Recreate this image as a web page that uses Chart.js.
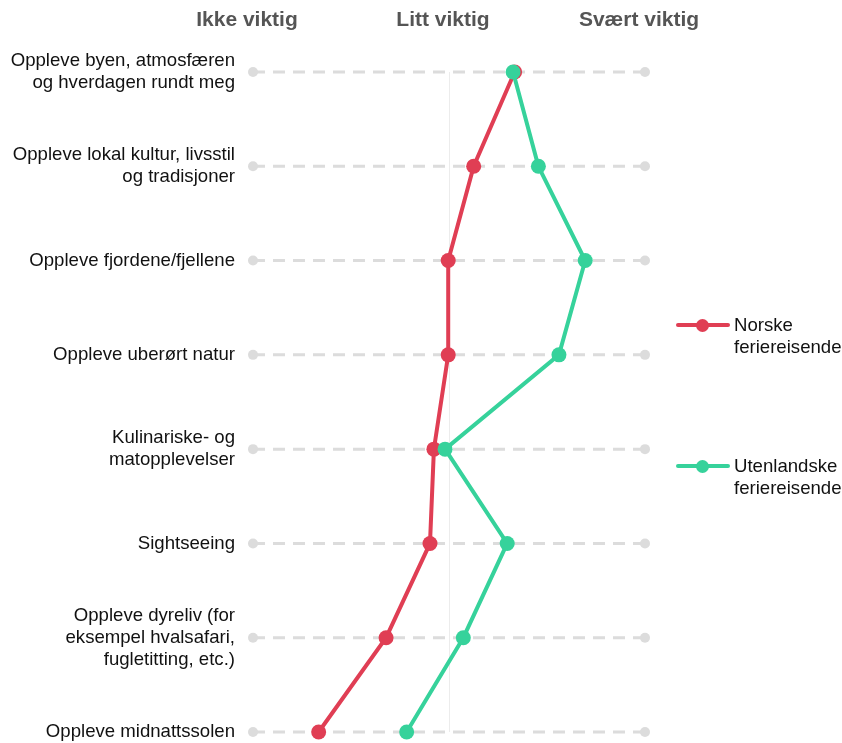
<!DOCTYPE html>
<html>
<head>
<meta charset="utf-8">
<script src="https://cdn.jsdelivr.net/npm/chart.js@4/dist/chart.umd.min.js"></script>
<style>
    body { margin: 0; background: #fff; font-family: "Liberation Sans", Arial, sans-serif; }
    #wrap { position: relative; width: 842px; height: 743px; }
    #chartBox { position: absolute; left: 0; top: 0; width: 842px; height: 743px; }
    .lgItem { position: absolute; left: 676px; font-size: 18.6px; line-height: 22px; color: #111; }
    .lgMark { position: absolute; left: 0; top: 9px; width: 54px; height: 4px; border-radius: 2px; }
    .lgDot { position: absolute; left: 20px; top: -4.5px; width: 13px; height: 13px; border-radius: 50%; }
    .lgText { position: absolute; left: 58px; top: 0; white-space: nowrap; }
</style>
</head>
<body>
<div id="wrap">
    <div id="chartBox"><canvas id="Chart_main"></canvas></div>
    <div id="legend"></div>
</div>
<script>
// categories (as shown, one entry per line of text)
var categoryLines = [
    ["Oppleve byen, atmosfæren", "og hverdagen rundt meg"],
    ["Oppleve lokal kultur, livsstil", "og tradisjoner"],
    ["Oppleve fjordene/fjellene"],
    ["Oppleve uberørt natur"],
    ["Kulinariske- og", "matopplevelser"],
    ["Sightseeing"],
    ["Oppleve dyreliv (for", "eksempel hvalsafari,", "fugletitting, etc.)"],
    ["Oppleve midnattssolen"]
];

// 1 = Ikke viktig, 2 = Litt viktig, 3 = Svært viktig
var scaleValues = [1, 2, 3];
var scaleLabels = ["Ikke viktig", "Litt viktig", "Svært viktig"];

var seriesNames = [["Norske", "feriereisende"], ["Utenlandske", "feriereisende"]];
var norske = [2.335, 2.126, 1.996, 1.996, 1.923, 1.903, 1.679, 1.335];
var utenlandske = [2.327, 2.456, 2.695, 2.561, 1.980, 2.297, 2.073, 1.784];

var seriesColors = ["#e03e54", "#36d29b"];
var rangeColor = "#dcdcdc";

var labels = categoryLines.map(function (l) { return l.join(" "); });

// grey dashed range line for every category, from lowest to highest scale value
var DSets = labels.map(function (lab) {
    return {
        data: [{ x: scaleValues[0], y: lab }, { x: scaleValues[scaleValues.length - 1], y: lab }],
        borderColor: rangeColor, borderWidth: 3, borderDash: [12, 8],
        pointRadius: 5, pointHoverRadius: 5, pointBorderWidth: 0,
        pointBackgroundColor: rangeColor, clip: false, order: 3
    };
});

var series = [norske, utenlandske];
for (var i = 0; i < series.length; i++) {
    DSets.push({
        label: seriesNames[i].join(" "),
        data: series[i],
        borderColor: seriesColors[i], backgroundColor: seriesColors[i],
        borderWidth: 4, pointRadius: 7.5, pointHoverRadius: 7.5, pointBorderWidth: 0,
        pointBackgroundColor: seriesColors[i], clip: false, tension: 0,
        order: 2 - i
    });
}

var ctx = document.getElementById("Chart_main");
var chart = new Chart(ctx, {
    type: "line",
    data: { labels: labels, datasets: DSets },
    options: {
        indexAxis: "y",
        maintainAspectRatio: false,
        responsive: true,
        animation: false,
        layout: { padding: { top: 0, right: 197, bottom: 11, left: 0 } },
        plugins: { legend: { display: false }, tooltip: { enabled: false } },
        scales: {
            x: {
                type: "linear",
                position: "top",
                min: scaleValues[0],
                max: scaleValues[scaleValues.length - 1],
                afterBuildTicks: function (s) { s.ticks = scaleValues.map(function (v) { return { value: v }; }); },
                afterFit: function (s) { s.height = 72; s.paddingLeft = 0; s.paddingRight = 0; },
                ticks: {
                    padding: 39,
                    labelOffset: -6,
                    color: "#555",
                    font: { family: "'Liberation Sans', Arial, sans-serif", size: 21, weight: "bold" },
                    callback: function (v) { return scaleLabels[scaleValues.indexOf(v)]; }
                },
                grid: {
                    drawTicks: false,
                    color: function (c) { return c.tick && c.tick.value === scaleValues[1] ? "#ececec" : "rgba(0,0,0,0)"; }
                },
                border: { display: false }
            },
            y: {
                type: "category",
                afterFit: function (s) { s.width = 253; s.paddingTop = 0; s.paddingBottom = 0; },
                ticks: {
                    autoSkip: false,
                    padding: 18,
                    color: "#111",
                    font: { family: "'Liberation Sans', Arial, sans-serif", size: 18.6, lineHeight: 1.18 },
                    callback: function (v, idx) { return categoryLines[idx]; }
                },
                grid: { display: false, drawTicks: false },
                border: { display: false }
            }
        }
    }
});

// html legend (two-line labels)
var legendTops = [314, 455];
var lg = document.getElementById("legend");
for (var i = 0; i < seriesNames.length; i++) {
    var it = document.createElement("div");
    it.className = "lgItem";
    it.style.top = legendTops[i] + "px";
    it.innerHTML = "<div class='lgMark' style='background:" + seriesColors[i] + "'><div class='lgDot' style='background:" + seriesColors[i] + "'></div></div>" +
        "<div class='lgText'>" + seriesNames[i].join("<br>") + "</div>";
    lg.appendChild(it);
}
</script>
</body>
</html>
